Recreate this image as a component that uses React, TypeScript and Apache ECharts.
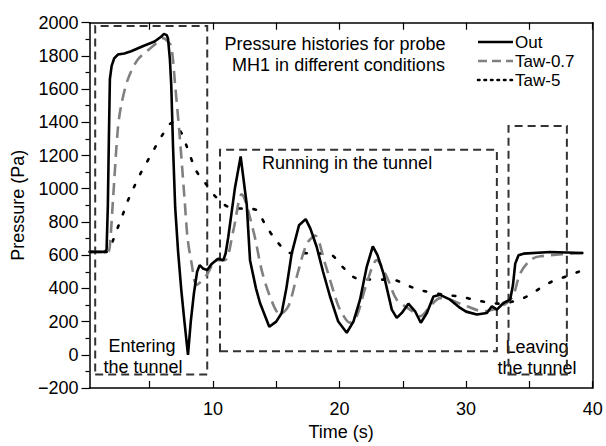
import React, { useEffect, useRef } from "react";
import * as echarts from "echarts";

// ---- data (time s, pressure Pa) ----
const outT = [0.25, 1.5, 1.6, 1.7, 1.78, 1.86, 2.0, 2.2, 2.49, 3.0, 3.54, 4.5, 5.39, 5.9, 6.13, 6.35, 6.45, 6.6, 6.71, 6.85, 7.02, 7.25, 7.5, 7.75, 8.03, 8.25, 8.5, 8.75, 8.95, 9.21, 9.55, 9.92, 10.4, 10.82, 11.0, 11.21, 11.74, 12.19, 12.67, 12.93, 13.4, 13.72, 14.45, 15.0, 15.43, 15.8, 16.22, 16.8, 17.33, 17.7, 18.2, 18.7, 19.25, 19.9, 20.57, 21.1, 21.62, 22.15, 22.63, 23.0, 23.47, 24.13, 24.52, 24.92, 25.44, 25.97, 26.42, 26.9, 27.42, 27.95, 28.74, 29.53, 30.0, 30.85, 31.64, 32.04, 32.43, 32.95, 33.48, 33.7, 33.88, 34.14, 34.53, 36.64, 39.27];
const outP = [620, 620, 635, 900, 1300, 1660, 1740, 1785, 1808, 1815, 1828, 1860, 1887, 1915, 1933, 1925, 1905, 1780, 1620, 1250, 886, 620, 391, 200, 0, 200, 371, 500, 540, 520, 510, 549, 579, 570, 610, 708, 1005, 1194, 906, 570, 400, 312, 169, 200, 252, 400, 609, 780, 817, 760, 649, 500, 351, 200, 133, 200, 332, 530, 653, 600, 490, 272, 222, 252, 308, 262, 193, 252, 351, 361, 332, 282, 260, 243, 252, 292, 272, 312, 332, 420, 549, 599, 609, 619, 613];

const taw07T = [0.25, 1.7, 1.85, 2.1, 2.49, 2.75, 3.28, 4.07, 5.39, 6.05, 6.4, 6.71, 7.02, 7.37, 7.77, 8.0, 8.32, 8.71, 9.5, 10.3, 10.95, 11.61, 12.27, 13.19, 13.85, 14.51, 15.3, 15.96, 16.62, 17.41, 18.07, 18.86, 19.65, 20.04, 20.83, 21.36, 22.15, 22.94, 23.73, 24.52, 25.57, 26.37, 27.16, 27.95, 28.74, 30.06, 31.37, 32.16, 33.22, 33.74, 34.27, 35.06, 35.85, 39.28];
const taw07P = [620, 620, 650, 927, 1362, 1501, 1659, 1778, 1867, 1907, 1890, 1857, 1620, 1322, 926, 700, 549, 421, 480, 570, 570, 748, 966, 748, 510, 351, 243, 292, 470, 668, 718, 549, 351, 272, 193, 232, 431, 570, 470, 332, 272, 232, 292, 341, 332, 292, 262, 272, 312, 361, 490, 570, 593, 613];

const taw5T = [0.25, 1.6, 1.75, 2.1, 2.49, 2.89, 3.28, 3.76, 4.26, 4.81, 5.39, 5.99, 6.79, 7.5, 7.89, 8.68, 9.39, 10.26, 11.35, 12.4, 13.4, 14.11, 15.04, 16.09, 17.3, 19.25, 20.18, 21.15, 22.28, 24.26, 25.44, 26.5, 28.48, 29.53, 30.58, 31.64, 32.69, 33.74, 34.8, 35.85, 36.78, 37.83, 38.88, 39.2];
const taw5P = [620, 620, 630, 688, 767, 847, 928, 1009, 1089, 1164, 1243, 1322, 1398, 1338, 1263, 1108, 1035, 948, 886, 880, 874, 787, 684, 613, 612, 605, 534, 466, 454, 451, 415, 387, 359, 351, 332, 316, 308, 322, 351, 401, 441, 470, 500, 510];

// dashed annotation boxes: [x0, y0, x1, y1] in data units
const boxes = [
  [0.7, -118, 9.55, 1980],
  [10.56, 22, 32.43, 1235],
  [33.35, -118, 37.96, 1378],
];

const xLabelValues = [10, 20, 30, 40];
const xTickValues = [5, 10, 15, 20, 25, 30, 35, 40];
const seriesNames = ["Out", "Taw-0.7", "Taw-5"];

const FONT = "'Liberation Sans', Arial, sans-serif";

const zip = (t: number[], p: number[]) => t.map((v, i) => [v, p[i]]);

export default function App() {
  const ref = useRef<HTMLDivElement>(null);
  useEffect(() => {
    if (!ref.current) return;
    const chart = echarts.init(ref.current, null, { renderer: "svg", width: 606, height: 446 });
    const txt = (text: string, x: number, y: number, align = "center", size = 18) => ({
      type: "text",
      x,
      y,
      silent: true,
      style: {
        text,
        fontSize: size,
        fontFamily: FONT,
        fill: "#000",
        align,
        verticalAlign: "middle",
      },
    });
    const legLine = (y: number, stroke: string, dash: number[] | null) => ({
      type: "line",
      silent: true,
      shape: { x1: 478, y1: y, x2: 513, y2: y },
      style: { stroke, lineWidth: 2.6, lineDash: dash || undefined, lineCap: dash && dash[0] < 3 ? "round" : "butt" },
    });
    const legY = [42, 61, 80];
    chart.setOption({
      animation: false,
      backgroundColor: "#fff",
      grid: { left: 89.5, right: 13.3, top: 22.7, bottom: 53, containLabel: false },
      textStyle: { fontFamily: FONT },
      xAxis: [
        {
          type: "value",
          min: 0.25,
          max: 40,
          position: "bottom",
          name: "Time (s)",
          nameLocation: "middle",
          nameGap: 35,
          nameTextStyle: { fontSize: 18, color: "#000", fontFamily: FONT },
          axisLine: { show: true, onZero: false, lineStyle: { color: "#000", width: 1.5 } },
          axisTick: { show: true, inside: true, length: 7, customValues: xTickValues, lineStyle: { color: "#000", width: 1.2 } },
          axisLabel: { customValues: xLabelValues, fontSize: 18, color: "#000", fontFamily: FONT, margin: 12 },
          splitLine: { show: false },
        },
        {
          type: "value",
          min: 0.25,
          max: 40,
          position: "top",
          axisLine: { show: true, onZero: false, lineStyle: { color: "#000", width: 1.5 } },
          axisTick: { show: true, inside: true, length: 7, customValues: xTickValues, lineStyle: { color: "#000", width: 1.2 } },
          axisLabel: { show: false },
          splitLine: { show: false },
        },
      ],
      yAxis: [
        {
          type: "value",
          min: -200,
          max: 2000,
          interval: 200,
          name: "Pressure (Pa)",
          nameLocation: "middle",
          nameGap: 52,
          nameTextStyle: { fontSize: 18, color: "#000", fontFamily: FONT },
          axisLine: { show: true, onZero: false, lineStyle: { color: "#000", width: 1.5 } },
          axisTick: { show: true, inside: false, length: 8, lineStyle: { color: "#000", width: 1.2 } },
          minorTick: { show: true, splitNumber: 2, length: 4, lineStyle: { color: "#000", width: 1.2 } },
          axisLabel: {
            fontSize: 18,
            color: "#000",
            fontFamily: FONT,
            margin: 11,
            formatter: (v: number) => (v < 0 ? "\u2212" + Math.abs(v) : String(v)),
          },
          splitLine: { show: false },
        },
        {
          type: "value",
          min: -200,
          max: 2000,
          position: "right",
          axisLine: { show: true, onZero: false, lineStyle: { color: "#000", width: 1.5 } },
          axisTick: { show: false },
          axisLabel: { show: false },
          splitLine: { show: false },
        },
      ],
      series: [
        {
          name: seriesNames[0],
          type: "line",
          data: zip(outT, outP),
          symbol: "none",
          z: 4,
          lineStyle: { color: "#000", width: 2.6 },
          itemStyle: { color: "#000" },
        },
        {
          name: seriesNames[1],
          type: "line",
          data: zip(taw07T, taw07P),
          symbol: "none",
          smooth: 0.3,
          z: 3,
          lineStyle: { color: "#808080", width: 2.6, type: [12, 7] },
          itemStyle: { color: "#808080" },
        },
        {
          name: seriesNames[2],
          type: "line",
          data: zip(taw5T, taw5P),
          symbol: "none",
          smooth: 0.3,
          z: 2,
          lineStyle: { color: "#000", width: 2.6, type: [2.6, 12], cap: "round" },
          itemStyle: { color: "#000" },
          markArea: {
            silent: true,
            itemStyle: {
              color: "rgba(0,0,0,0)",
              borderColor: "#333",
              borderWidth: 2,
              borderType: [8, 5],
            },
            data: boxes.map((b) => [
              { coord: [b[0], b[1]] },
              { coord: [b[2], b[3]] },
            ]),
          },
        },
      ],
      graphic: [
        legLine(legY[0], "#000", null),
        legLine(legY[1], "#808080", [9, 5]),
        legLine(legY[2], "#000", [1.5, 5]),
        txt(seriesNames[0], 515, legY[0], "left", 17),
        txt(seriesNames[1], 515, legY[1], "left", 17),
        txt(seriesNames[2], 515, legY[2], "left", 17),
        txt("Pressure histories for probe", 335, 44),
        txt(" MH1 in different conditions", 336, 65),
        txt("Running in the tunnel", 262, 163, "left"),
        txt("Entering", 142, 346),
        txt("the tunnel", 143, 367),
        txt("Leaving", 537, 347),
        txt("the tunnel", 537, 368),
      ],
    });
    return () => chart.dispose();
  }, []);
  return (
    <div
      ref={ref}
      style={{ position: "fixed", left: 0, top: 0, width: 606, height: 446, overflow: "hidden" }}
    />
  );
}
